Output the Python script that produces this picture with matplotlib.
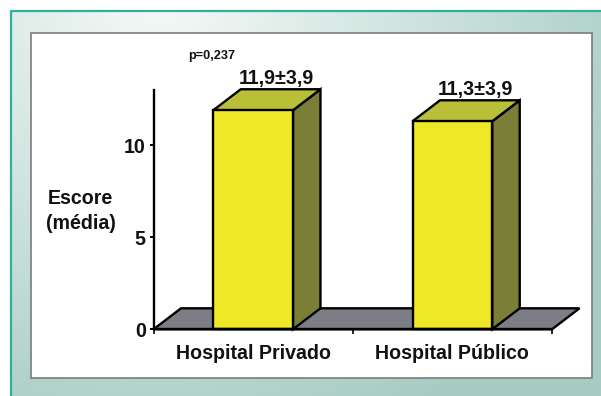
import numpy as np
import matplotlib
matplotlib.use("Agg")
import matplotlib.pyplot as plt
from matplotlib.patches import Polygon, Rectangle

plt.rcParams['font.family'] = ['Liberation Sans', 'DejaVu Sans']

# Mean scores per hospital type
categories = ["Hospital Privado", "Hospital Público"]
means = [11.9, 11.3]
mean_labels = ["11,9±3,9", "11,3±3,9"]
y_ticks = [0, 5, 10]
y_label = "Escore\n(média)"
p_note = "p=0,237"

W, H = 601, 396
BLACK_LW = 1.7
FONT = 14.1
FRONT = "#eee826"
TOP = "#b9bf36"
SIDE = "#7b7e36"
FLOOR = "#7d7e85"

fig = plt.figure(figsize=(W / 100, H / 100), dpi=100, facecolor="white")

# Page background: frame with a soft diagonal gradient
bg = fig.add_axes([0, 0, 1, 1], zorder=0)
bg.set_xlim(0, W)
bg.set_ylim(H, 0)
bg.axis("off")
xx, yy = np.meshgrid(np.linspace(0, W, 301), np.linspace(0, H, 199))
dist = np.clip(np.hypot((xx - 150) / 450, (yy + 10) / 400) / 1.2, 0, 1)
light = np.array([0xf5, 0xf9, 0xf7])
dark = np.array([0xa6, 0xcc, 0xc4])
grad = light[None, None, :] + (dark - light)[None, None, :] * dist[..., None]
bg.imshow(grad / 255, extent=(11, W, H, 11), aspect="auto", zorder=1)
bg.set_xlim(0, W)
bg.set_ylim(H, 0)
bg.plot([11, 11, W], [H, 11, 11], color="#2fb09a", lw=1.6, zorder=2)
bg.add_patch(Rectangle((31, 33), 561, 345, facecolor="white",
                       edgecolor="#7c7c7c", lw=1.2, zorder=3))

# Plot area: y axis spans 0-13, x axis spans two category slots
left, right, base, top = 153.5, 552.0, 329.3, 90.0
ax = fig.add_axes([left / W, 1 - base / H, (right - left) / W, (base - top) / H],
                  zorder=2)
ax.patch.set_alpha(0)
ax.set_xlim(0, 2)
ax.set_ylim(0, 13)

# Depth of the pseudo-3D extrusion, in data units
dx = 27.5 / ((right - left) / 2)
dy = 21.0 / ((base - top) / 13)
bar_w = 0.40
edge = dict(edgecolor="black", lw=BLACK_LW, joinstyle="miter", clip_on=False)

ax.add_patch(Polygon([(0, 0), (dx, dy), (2 + dx, dy), (2, 0)],
                     facecolor=FLOOR, zorder=1, **edge))

for i, (value, text) in enumerate(zip(means, mean_labels)):
    x0 = i + 0.5 - bar_w / 2
    x1 = x0 + bar_w
    ax.bar(i + 0.5, value, width=bar_w, color=FRONT, edgecolor="black",
           linewidth=BLACK_LW, zorder=3, clip_on=False)
    ax.add_patch(Polygon([(x1, 0), (x1 + dx, dy), (x1 + dx, value + dy), (x1, value)],
                         facecolor=SIDE, zorder=2, **edge))
    ax.add_patch(Polygon([(x0, value), (x0 + dx, value + dy),
                          (x1 + dx, value + dy), (x1, value)],
                         facecolor=TOP, zorder=2, **edge))
    ax.text(i + 0.5 + 0.115, value + dy + 0.09, text, ha="center", va="bottom",
            fontsize=FONT, fontweight="bold", color="#111111", clip_on=False)

for side in ("top", "right"):
    ax.spines[side].set_visible(False)
for side in ("left", "bottom"):
    ax.spines[side].set_linewidth(1.7)
    ax.spines[side].set_zorder(4)

ax.set_yticks(y_ticks)
ax.set_yticklabels([str(t) for t in y_ticks], fontsize=FONT, fontweight="bold",
                   color="#111111")
ax.tick_params(axis="y", length=3, width=1.4, pad=2.5)
ax.set_xticks([0, 1, 2])
ax.set_xticklabels([])
ax.tick_params(axis="x", length=3.5, width=1.2)

for i, name in enumerate(categories):
    ax.text(i + 0.5, -1.3, name, ha="center", va="center",
            fontsize=FONT, fontweight="bold", color="#111111")

fig.text(80.5 / W, 1 - 211 / H, y_label, ha="center", va="center",
         fontsize=FONT, fontweight="bold", color="#111111", linespacing=1.42)
fig.text(188 / W, 1 - 56 / H, p_note, ha="left", va="center",
         fontsize=9.2, fontweight="bold", color="#111111")

fig.savefig("out.png", dpi=100, facecolor="white")
